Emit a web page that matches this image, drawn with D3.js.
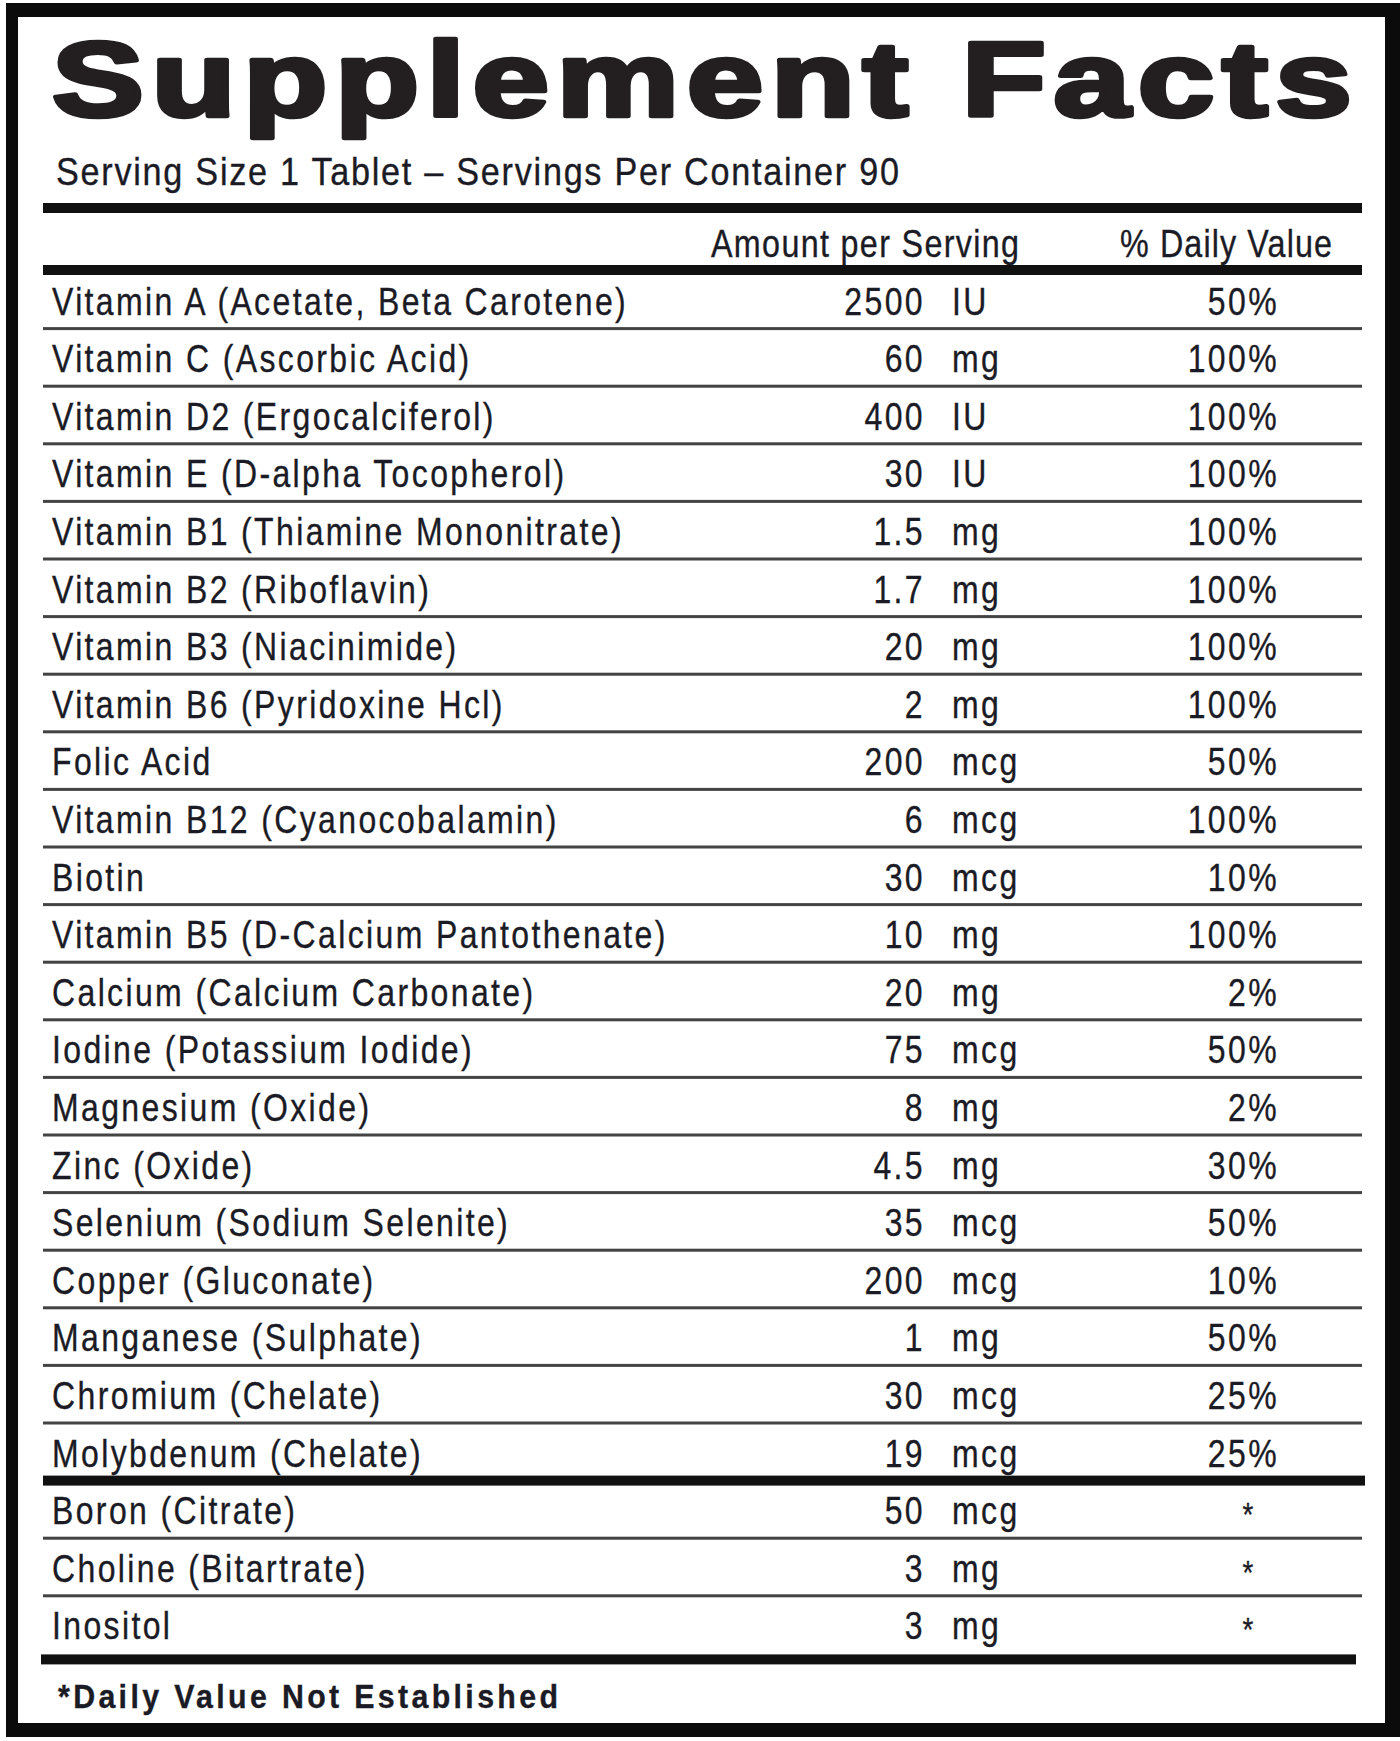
<!DOCTYPE html>
<html>
<head>
<meta charset="utf-8">
<script src="https://cdn.jsdelivr.net/npm/d3@7"></script>
<style>
  html, body { margin: 0; padding: 0; background: #fff; }
  svg { display: block; }
</style>
</head>
<body>
<div id="container"></div>
<script>
/**
 * CONSTANTS
 * */
const w = 1400
const h = 1741
const sx = 0.82           // horizontal squeeze, the label uses a condensed face
const ink = "#1b1b25"

/**
 * DATA
 * */
const titleText = "Supplement Facts"
const servingText = "Serving Size 1 Tablet \u2013 Servings Per Container 90"
const headers = ["Amount per Serving", "% Daily Value"]
const footnote = "*Daily Value Not Established"

const nutrients = [
  "Vitamin A (Acetate, Beta Carotene)",
  "Vitamin C (Ascorbic Acid)",
  "Vitamin D2 (Ergocalciferol)",
  "Vitamin E (D-alpha Tocopherol)",
  "Vitamin B1 (Thiamine Mononitrate)",
  "Vitamin B2 (Riboflavin)",
  "Vitamin B3 (Niacinimide)",
  "Vitamin B6 (Pyridoxine Hcl)",
  "Folic Acid",
  "Vitamin B12 (Cyanocobalamin)",
  "Biotin",
  "Vitamin B5 (D-Calcium Pantothenate)",
  "Calcium (Calcium Carbonate)",
  "Iodine (Potassium Iodide)",
  "Magnesium (Oxide)",
  "Zinc (Oxide)",
  "Selenium (Sodium Selenite)",
  "Copper (Gluconate)",
  "Manganese (Sulphate)",
  "Chromium (Chelate)",
  "Molybdenum (Chelate)",
  "Boron (Citrate)",
  "Choline (Bitartrate)",
  "Inositol"
]
const amounts = ["2500", "60", "400", "30", "1.5", "1.7", "20", "2", "200", "6", "30", "10",
  "20", "75", "8", "4.5", "35", "200", "1", "30", "19", "50", "3", "3"]
const units = ["IU", "mg", "IU", "IU", "mg", "mg", "mg", "mg", "mcg", "mcg", "mcg", "mg",
  "mg", "mcg", "mg", "mg", "mcg", "mcg", "mg", "mcg", "mcg", "mcg", "mg", "mg"]
const dailyValues = ["50%", "100%", "100%", "100%", "100%", "100%", "100%", "100%", "50%", "100%", "10%", "100%",
  "2%", "50%", "2%", "30%", "50%", "10%", "50%", "25%", "25%", "*", "*", "*"]
const established = 21   // rows with a daily value, above the heavy rule

const rows = nutrients.map((d, i) => ({
  name: d, amount: amounts[i], unit: units[i], dv: dailyValues[i], i
}))

/**
 * SCALES
 * */
const yScale = d3.scaleLinear()
  .domain([0, nutrients.length])
  .range([271, 271 + 57.6 * nutrients.length])

const xScale = d3.scaleOrdinal()
  .domain(["name", "amount", "unit", "dv", "star"])
  .range([52, 925, 952, 1279, 1248])

/**
 * DRAW
 * */
const svg = d3.select("#container")
  .append("svg")
  .attr("width", w)
  .attr("height", h)
  .attr("viewBox", `0 0 ${w} ${h}`)

svg.append("rect").attr("width", w).attr("height", h).attr("fill", "#fff")

// outer frame
svg.append("path")
  .attr("d", "M6,3H1400V1737H6Z M18,17V1723H1385V17Z")
  .attr("fill", "#0b0b0b")
  .attr("fill-rule", "evenodd")

function squeeze(sel, x, y, k = sx) {
  sel.attr("transform", `translate(${x},${y}) scale(${k},1)`)
}

// title
const tk = 1.3
svg.append("text")
  .attr("transform", `translate(52,116) scale(${tk},1)`)
  .attr("font-family", "'Liberation Sans', Arial, sans-serif")
  .attr("font-weight", "bold")
  .attr("font-size", 106)
  .attr("fill", "#231f20")
  .attr("stroke", "#231f20")
  .attr("stroke-width", 4.5)
  .attr("stroke-linejoin", "round")
  .attr("textLength", 1300 / tk)
  .attr("lengthAdjust", "spacing")
  .text(titleText)

const body = svg.append("g")
  .attr("font-family", "'Liberation Sans', Arial, sans-serif")
  .attr("fill", ink)
  .attr("stroke", ink)
  .attr("stroke-width", 0.35)

body.append("text")
  .call(squeeze, 56, 185, 0.9)
  .attr("font-size", 38)
  .attr("textLength", 843 / 0.9)
  .attr("lengthAdjust", "spacing")
  .text(servingText)

// header rules
const rules = svg.append("g").attr("fill", "#111")
rules.append("rect").attr("x", 43).attr("y", 203).attr("width", 1319).attr("height", 10)
rules.append("rect").attr("x", 43).attr("y", yScale(0) - 6).attr("width", 1319).attr("height", 10)

body.selectAll("text.head")
  .data(headers)
  .join("text")
  .attr("class", "head")
  .each(function (d, i) {
    d3.select(this).call(squeeze, [711, 1120][i], 257, 0.85)
      .attr("textLength", [308, 212][i] / 0.85)
  })
  .attr("font-size", 38)
  .attr("lengthAdjust", "spacing")
  .text(d => d)

// row rules
const bounds = d3.range(1, nutrients.length + 1)
svg.append("g")
  .selectAll("rect")
  .data(bounds)
  .join("rect")
  .attr("x", d => d === nutrients.length ? 41 : 43)
  .attr("width", d => d === nutrients.length ? 1315 : (d === established ? 1322 : 1319))
  .attr("y", d => d === established ? yScale(d) - 5 : (d === nutrients.length ? yScale(d) + 1 : yScale(d) - 1.5))
  .attr("height", d => (d === established || d === nutrients.length) ? 10 : 3)
  .attr("fill", d => (d === established || d === nutrients.length) ? "#111" : "#444")

// rows
const row = body.selectAll("g.row")
  .data(rows)
  .join("g")
  .attr("class", "row")
  .attr("font-size", 39)
  .attr("letter-spacing", 2.9)

const base = d => yScale(d.i + 1) - 14

row.append("text")
  .each(function (d) { d3.select(this).call(squeeze, xScale("name"), base(d)) })
  .text(d => d.name)

row.append("text")
  .each(function (d) { d3.select(this).call(squeeze, xScale("amount"), base(d)) })
  .attr("text-anchor", "end")
  .text(d => d.amount)

row.append("text")
  .each(function (d) { d3.select(this).call(squeeze, xScale("unit"), base(d)) })
  .text(d => d.unit)

row.append("text")
  .each(function (d) {
    const star = d.dv === "*"
    d3.select(this).call(squeeze, xScale(star ? "star" : "dv"), base(d) + (star ? 2 : 0))
      .attr("text-anchor", star ? "middle" : "end")
      .attr("letter-spacing", star ? 0 : 2.9)
      .attr("font-size", star ? 34 : 39)
  })
  .text(d => d.dv)

// footnote
body.append("text")
  .call(squeeze, 58, 1708, 0.92)
  .attr("font-size", 33)
  .attr("font-weight", "bold")
  .attr("textLength", 500 / 0.92)
  .attr("lengthAdjust", "spacing")
  .text(footnote)
</script>
</body>
</html>
